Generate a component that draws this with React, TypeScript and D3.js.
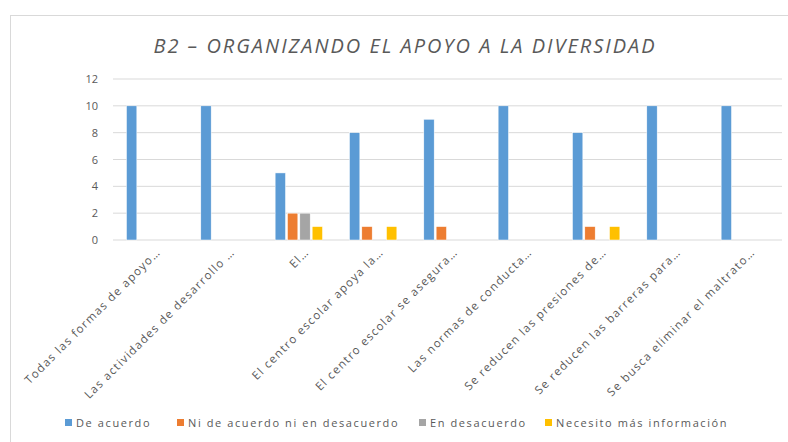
import React, { useEffect, useRef } from "react";
import * as d3 from "d3";

const categories = [
  "Todas las formas de apoyo…",
  "Las actividades de desarrollo …",
  "El…",
  "El centro escolar apoya la…",
  "El centro escolar se asegura…",
  "Las normas de conducta…",
  "Se reducen las presiones de…",
  "Se reducen las barreras para…",
  "Se busca eliminar el maltrato…",
];
const seriesNames = [
  "De acuerdo",
  "Ni de acuerdo ni en desacuerdo",
  "En desacuerdo",
  "Necesito más información",
];
const deAcuerdo = [10, 10, 5, 8, 9, 10, 8, 10, 10];
const niDeAcuerdo = [0, 0, 2, 1, 1, 0, 1, 0, 0];
const enDesacuerdo = [0, 0, 2, 0, 0, 0, 0, 0, 0];
const necesito = [0, 0, 1, 1, 0, 0, 1, 0, 0];
const yTicks = [0, 2, 4, 6, 8, 10, 12];
const colors = ["#5b9bd5", "#ed7d31", "#a5a5a5", "#ffc000"];

const W = 788;
const H = 442;

const App = () => {
  const svgRef = useRef<SVGSVGElement>(null);

  useEffect(() => {
    const svg = d3.select(svgRef.current);
    svg.selectAll("*").remove();
    const font = "'Open Sans', 'DejaVu Sans', sans-serif";
    const textColor = "#595959";

    // chart frame
    svg
      .append("rect")
      .attr("x", 10.5)
      .attr("y", 15.5)
      .attr("width", W + 20)
      .attr("height", H + 20)
      .attr("fill", "#fff")
      .attr("stroke", "#d9d9d9");

    svg
      .append("text")
      .attr("x", 405)
      .attr("y", 53)
      .attr("text-anchor", "middle")
      .attr("font-family", font)
      .attr("font-style", "italic")
      .attr("font-size", 20)
      .attr("letter-spacing", 2)
      .attr("fill", textColor)
      .text("B2 – ORGANIZANDO EL APOYO A LA DIVERSIDAD");

    const left = 113;
    const right = 782;
    const top = 79;
    const bottom = 240;

    const x = d3.scaleBand<string>().domain(categories).range([left, right]);
    const y = d3.scaleLinear().domain([0, 12]).range([bottom, top]);
    const x1 = d3
      .scaleBand<number>()
      .domain([0, 1, 2, 3])
      .range([11.5, x.bandwidth() - 11.5])
      .padding(0.16);

    const g = svg.append("g");
    g.selectAll("line.grid")
      .data(yTicks)
      .join("line")
      .attr("class", "grid")
      .attr("x1", left)
      .attr("x2", right)
      .attr("y1", (d) => y(d))
      .attr("y2", (d) => y(d))
      .attr("stroke", "#d9d9d9")
      .attr("stroke-width", 1);

    g.selectAll("text.ytick")
      .data(yTicks)
      .join("text")
      .attr("class", "ytick")
      .attr("x", 98)
      .attr("y", (d) => y(d) + 4)
      .attr("text-anchor", "end")
      .attr("font-family", font)
      .attr("font-size", 11)
      .attr("fill", textColor)
      .text((d) => d);

    const series = [deAcuerdo, niDeAcuerdo, enDesacuerdo, necesito];
    series.forEach((vals, si) => {
      g.selectAll(`rect.s${si}`)
        .data(vals.map((v, i) => ({ v, c: categories[i] })).filter((d) => d.v > 0))
        .join("rect")
        .attr("class", `s${si}`)
        .attr("x", (d) => (x(d.c) as number) + (x1(si) as number))
        .attr("y", (d) => y(d.v))
        .attr("width", x1.bandwidth())
        .attr("height", (d) => y(0) - y(d.v))
        .attr("fill", colors[si])
        .attr("stroke", "#fff")
        .attr("stroke-width", 0.5);
    });

    g.selectAll("text.xlab")
      .data(categories)
      .join("text")
      .attr("class", "xlab")
      .attr(
        "transform",
        (d) => `translate(${(x(d) as number) + x.bandwidth() / 2 + 11},${bottom + 13}) rotate(-45)`
      )
      .attr("text-anchor", "end")
      .attr("font-family", font)
      .attr("font-size", 11.5)
      .attr("letter-spacing", 1.3)
      .attr("fill", textColor)
      .text((d) => d);

    // legend
    const legendX = [65, 177, 419, 545];
    const lg = svg.append("g");
    seriesNames.forEach((name, i) => {
      lg.append("rect")
        .attr("x", legendX[i])
        .attr("y", 419)
        .attr("width", 7)
        .attr("height", 7)
        .attr("fill", colors[i]);
      lg.append("text")
        .attr("x", legendX[i] + 11)
        .attr("y", 426.5)
        .attr("font-family", font)
        .attr("font-size", 11)
        .attr("letter-spacing", 1.6)
        .attr("fill", textColor)
        .text(name);
    });
  }, []);

  return (
    <svg
      ref={svgRef}
      width={W}
      height={H}
      style={{ position: "absolute", left: 0, top: 0, background: "#fff" }}
    ></svg>
  );
};

export default App;
